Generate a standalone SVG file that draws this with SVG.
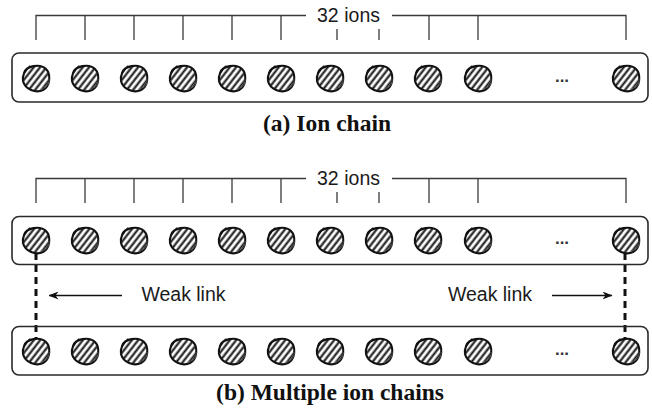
<svg xmlns="http://www.w3.org/2000/svg" xmlns:xlink="http://www.w3.org/1999/xlink" width="652" height="408" viewBox="0 0 652 408">
  <style>
    .bracket { fill: none; stroke: #3a3a3a; stroke-width: 1.3; }
    .chain { fill: none; stroke: #2a2a2a; stroke-width: 1.6; }
    .label { font-family: "Liberation Sans", Arial, sans-serif; font-size: 19.5px; fill: #1a1a1a; }
    .caption { font-family: "Liberation Serif", "Times New Roman", serif; font-size: 23.5px; font-weight: bold; fill: #111111; text-anchor: middle; }
    .dots { font-family: "Liberation Sans", Arial, sans-serif; font-size: 17px; font-weight: bold; fill: #333333; text-anchor: middle; }
    .weak { fill: none; stroke: #111111; stroke-width: 3; stroke-dasharray: 7 5; }
    .arrow { fill: none; stroke: #111111; stroke-width: 1.4; marker-end: url(#head); }
  </style>
  <defs>
    <!-- diagonal hatching used inside each ion -->
    <pattern id="hatch" width="5" height="5" patternUnits="userSpaceOnUse" patternTransform="rotate(38)">
      <line x1="1.6" y1="0" x2="1.6" y2="5" stroke="#151515" stroke-width="2.1"/>
    </pattern>
    <!-- one hand-drawn ion -->
    <symbol id="ion" overflow="visible">
      <circle cx="0" cy="0" r="12.6" fill="url(#hatch)"/>
      <path d="M -12,-5 C -10,-12 4,-15 10,-9 C 15,-4 14.5,8 7,12 C 0,15.5 -11,11.5 -13,3 C -14,-2 -11.5,-8 -6,-11.5" fill="none" stroke="#111111" stroke-width="2.1" stroke-linecap="round"/>
      <path d="M 8,10 C 12,9 13.5,4 13,1" fill="none" stroke="#555555" stroke-width="1"/>
    </symbol>
    <marker id="head" viewBox="0 0 10 8" refX="9.5" refY="4" markerWidth="10" markerHeight="8" markerUnits="userSpaceOnUse" orient="auto">
      <path d="M0,0 L10,4 L0,8 L3,4 z" fill="#111111"/>
    </marker>
  </defs>

  <rect width="652" height="408" fill="#ffffff"/>

  <!-- (a) single chain -->
  <g id="bracket-a">
    <path class="bracket" d="M36,40 V15.5 H306 M392,15.5 H626 V40 M85,15.5 V40 M134,15.5 V40 M183,15.5 V40 M232,15.5 V40 M281,15.5 V40 M337,29 V40 M379,29 V40 M429,15.5 V40 M478,15.5 V40"/>
    <text class="label" x="317" y="22" textLength="63">32 ions</text>
  </g>
  <g id="chain-a">
    <rect class="chain" x="12" y="53" width="636" height="49" rx="7"/>
    <use xlink:href="#ion" x="36" y="78"/>
    <use xlink:href="#ion" x="85" y="78"/>
    <use xlink:href="#ion" x="134" y="78"/>
    <use xlink:href="#ion" x="183" y="78"/>
    <use xlink:href="#ion" x="232" y="78"/>
    <use xlink:href="#ion" x="281" y="78"/>
    <use xlink:href="#ion" x="330" y="78"/>
    <use xlink:href="#ion" x="379" y="78"/>
    <use xlink:href="#ion" x="428" y="78"/>
    <use xlink:href="#ion" x="478" y="78"/>
    <text class="dots" x="562" y="82">...</text>
    <use xlink:href="#ion" x="626" y="78"/>
  </g>
  <g id="caption-a">
    <text class="caption" x="327" y="131">(a) Ion chain</text>
  </g>

  <!-- (b) two chains joined by weak links -->
  <g id="bracket-b">
    <path class="bracket" d="M36,203 V178.5 H306 M392,178.5 H626 V203 M85,178.5 V203 M134,178.5 V203 M183,178.5 V203 M232,178.5 V203 M281,178.5 V203 M337,192 V203 M379,192 V203 M429,178.5 V203 M478,178.5 V203"/>
    <text class="label" x="317" y="185" textLength="63">32 ions</text>
  </g>

  <g id="connectors">
    <line class="weak" x1="36" y1="253" x2="36" y2="338"/>
    <line class="weak" x1="625" y1="253" x2="625" y2="338"/>
    <line class="arrow" x1="122" y1="295.5" x2="49" y2="295.5"/>
    <line class="arrow" x1="552" y1="295.5" x2="612" y2="295.5"/>
  </g>

  <g id="chain-top">
    <rect class="chain" x="12" y="216.5" width="636" height="48" rx="7"/>
    <use xlink:href="#ion" x="36" y="240"/>
    <use xlink:href="#ion" x="85" y="240"/>
    <use xlink:href="#ion" x="134" y="240"/>
    <use xlink:href="#ion" x="183" y="240"/>
    <use xlink:href="#ion" x="232" y="240"/>
    <use xlink:href="#ion" x="281" y="240"/>
    <use xlink:href="#ion" x="330" y="240"/>
    <use xlink:href="#ion" x="379" y="240"/>
    <use xlink:href="#ion" x="428" y="240"/>
    <use xlink:href="#ion" x="478" y="240"/>
    <text class="dots" x="562" y="244">...</text>
    <use xlink:href="#ion" x="626" y="240"/>
  </g>

  <g id="weak-link-labels">
    <text class="label" x="141.5" y="301" textLength="84">Weak link</text>
    <text class="label" x="448" y="301" textLength="84">Weak link</text>
  </g>

  <g id="chain-bottom">
    <rect class="chain" x="12" y="326.5" width="636" height="48.5" rx="7"/>
    <use xlink:href="#ion" x="36" y="351"/>
    <use xlink:href="#ion" x="85" y="351"/>
    <use xlink:href="#ion" x="134" y="351"/>
    <use xlink:href="#ion" x="183" y="351"/>
    <use xlink:href="#ion" x="232" y="351"/>
    <use xlink:href="#ion" x="281" y="351"/>
    <use xlink:href="#ion" x="330" y="351"/>
    <use xlink:href="#ion" x="379" y="351"/>
    <use xlink:href="#ion" x="428" y="351"/>
    <use xlink:href="#ion" x="478" y="351"/>
    <text class="dots" x="562" y="355">...</text>
    <use xlink:href="#ion" x="626" y="351"/>
  </g>
  <g id="caption-b">
    <text class="caption" x="330" y="400">(b) Multiple ion chains</text>
  </g>
</svg>
